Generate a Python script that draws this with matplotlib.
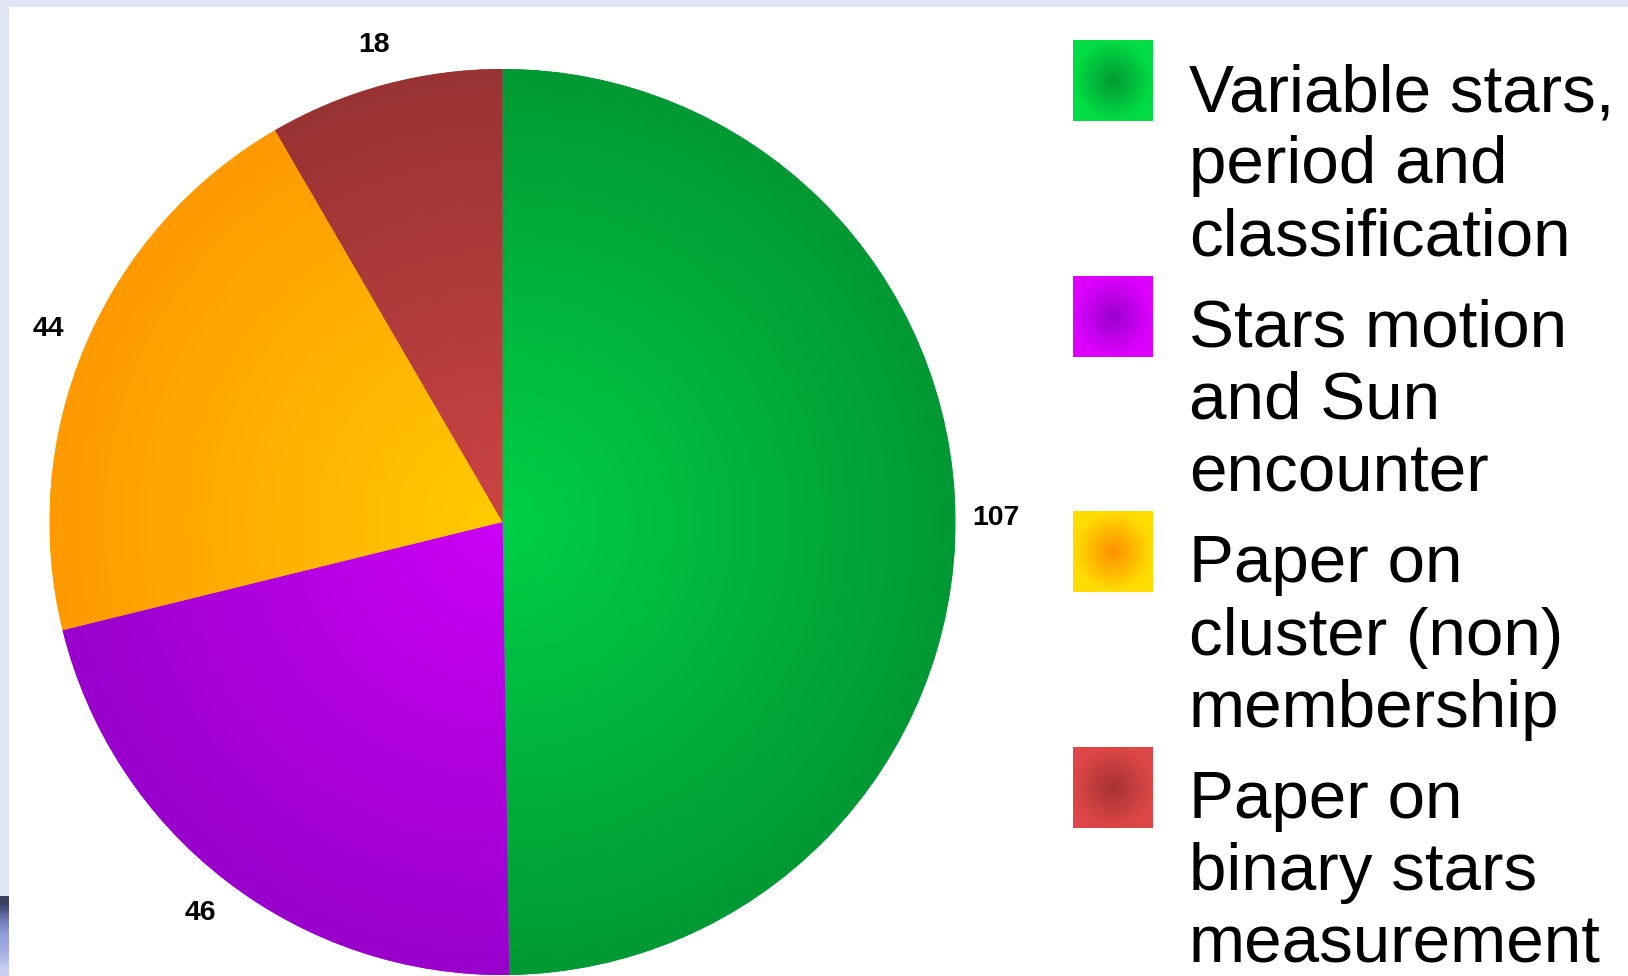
import numpy as np
import matplotlib
matplotlib.use('Agg')
import matplotlib.pyplot as plt
from matplotlib.patches import Rectangle
from matplotlib.colors import to_rgb

# ---- data ----
categories = ["Variable stars,\nperiod and\nclassification",
              "Stars motion\nand Sun\nencounter",
              "Paper on\ncluster (non)\nmembership",
              "Paper on\nbinary stars\nmeasurement"]
values = [107, 46, 44, 18]
center_colors = ['#00d046', '#cc00f5', '#ffcc00', '#cc4444']
edge_colors = ['#009933', '#9900cc', '#ff9900', '#993333']
swatch_center = ['#009a33', '#9900cc', '#ff9000', '#a83333']
swatch_edge = ['#00dd44', '#dd00ff', '#ffdd00', '#dd4646']

W, H = 1628, 976
fig = plt.figure(figsize=(W / 100, H / 100), dpi=100, facecolor='#dfe5f5')
fig.patches.append(Rectangle((9 / W, 0), 1 - 9 / W, (H - 7) / H, transform=fig.transFigure,
                             facecolor='white', edgecolor='none', zorder=-5))

# bottom-left dark slide decoration
axd = fig.add_axes([0, 0, 9 / W, 80 / H])
dec = np.array([to_rgb(c) for c in ['#3c4062', '#6f7bb8', '#94a0dc', '#a4aee2', '#c8cff0']])
axd.imshow(dec[:, None, :], aspect='auto', extent=(0, 1, 0, 1), interpolation='bilinear')
axd.axis('off')


def radial(c0, c1, n=300):
    x = np.linspace(-1, 1, n)
    X, Y = np.meshgrid(x, x)
    r = np.clip(np.sqrt(X ** 2 + Y ** 2), 0, 1)[..., None]
    a = np.array(to_rgb(c0)); b = np.array(to_rgb(c1))
    return a + (b - a) * r


# ---- pie ----
cx, cy, R = 502.5, H - 522, 453
ax = fig.add_axes([(cx - R) / W, (cy - R) / H, 2 * R / W, 2 * R / H])
total = sum(values)
wedges, texts, autotexts = ax.pie(
    values, startangle=90, counterclock=False, radius=1, colors=edge_colors,
    wedgeprops=dict(linewidth=0),
    autopct=lambda p: f'{p * total / 100:.0f}', pctdistance=1.09,
    textprops=dict(fontsize=20.5, fontweight='bold', family='Liberation Sans', color='black'))
for w, c0, c1 in zip(wedges, center_colors, edge_colors):
    im = ax.imshow(radial(c0, c1), extent=(-1, 1, -1, 1), origin='lower',
                   interpolation='bilinear', zorder=2)
    im.set_clip_path(w)
for t in autotexts:
    t.set_zorder(5)
ax.set_xlim(-1, 1)
ax.set_ylim(-1, 1)
ax.set_aspect('equal', adjustable='box')
ax.axis('off')

# ---- legend ----
for i, (lab, c0, c1) in enumerate(zip(categories, swatch_center, swatch_edge)):
    base = 111 + 235.7 * i
    top = base - 71
    axs = fig.add_axes([1072.5 / W, (H - top - 81) / H, 80 / W, 81 / H])
    axs.imshow(radial(c0, c1, 100), extent=(0, 1, 0, 1), aspect='auto', interpolation='bilinear')
    axs.axis('off')
    for j, line in enumerate(lab.split('\n')):
        fig.text(1189 / W, (H - (base + 72.2 * j)) / H, line, fontsize=48.5,
                 family='Liberation Sans', va='baseline', ha='left', color='black')

fig.savefig('out.png', dpi=100, facecolor=fig.get_facecolor())
